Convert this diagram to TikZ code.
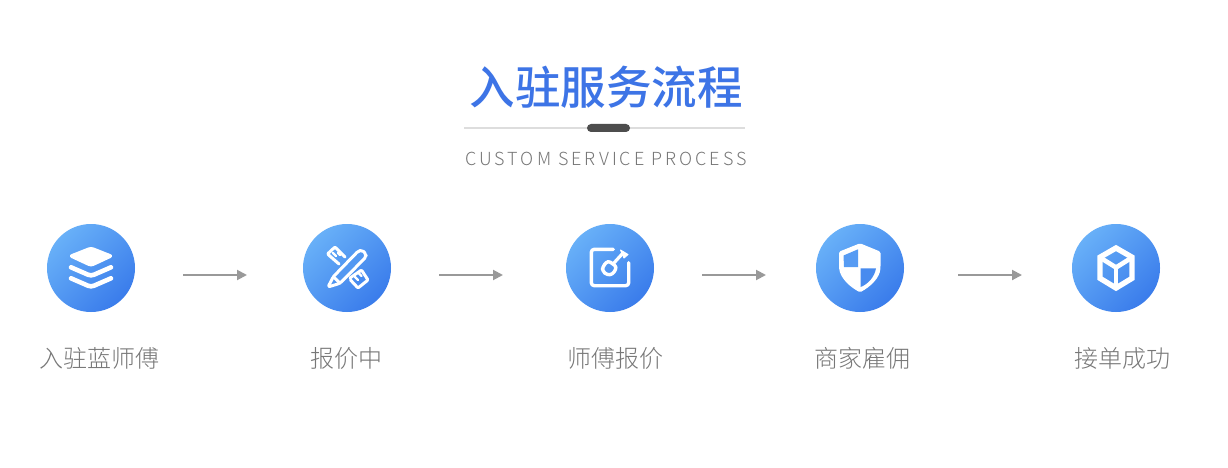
\documentclass[tikz,border=0pt]{standalone}
\usepackage{fontspec}
\usetikzlibrary{arrows.meta}
\newfontfamily\cjk{Noto Sans CJK SC Medium}
\newfontfamily\cjklight{Noto Sans CJK SC Light}
\newfontfamily\latinlight[LetterSpace=16.6]{Noto Sans CJK SC Light}
\definecolor{titleblue}{HTML}{3D74E6}
\definecolor{gradlight}{HTML}{68B0F8}
\definecolor{graddark}{HTML}{3A7CEB}
\definecolor{labelgray}{HTML}{777777}
\definecolor{arrowgray}{HTML}{999999}
\definecolor{ruleline}{HTML}{DDDDDD}
\definecolor{pillgray}{HTML}{4D4D4D}
\tikzset{
  badge/.style={circle,minimum size=88pt,inner sep=0pt,outer sep=0pt,
    shading=axis,top color=gradlight,bottom color=graddark,shading angle=45},
  steplabel/.style={font=\cjklight\fontsize{24}{28}\selectfont,text=labelgray,inner sep=0pt},
  flow/.style={draw=arrowgray,line width=2pt,-{Triangle[length=10pt,width=10pt]}},
  iconline/.style={draw=white,line width=3pt,line join=round,line cap=round},
}
\begin{document}
\begin{tikzpicture}[x=1pt,y=-1pt]
\useasboundingbox (0,0) rectangle (1228,468);
\fill[white] (0,0) rectangle (1228,468);
% heading
\node[inner sep=0pt,text=titleblue,font=\cjk\fontsize{45.5}{50}\selectfont] (title) at (606,87) {入驻服务流程};
\coordinate (ruleL) at (464,128);
\coordinate (ruleR) at (745,128);
\draw[ruleline,line width=2pt] (ruleL) -- (ruleR);
\fill[pillgray,rounded corners=4pt] (587,124) rectangle (630,132);
\node[inner sep=0pt,text=labelgray,font=\latinlight\fontsize{18}{22}\selectfont] (subtitle) at (606,159) {CUSTOM SERVICE PROCESS};
% badges
\node[badge] (c1) at (91,268) {};
\node[badge] (c2) at (347,268) {};
\node[badge] (c3) at (610,268) {};
\node[badge] (c4) at (860,268) {};
\node[badge] (c5) at (1116,268) {};
% labels
\node[steplabel] (t1) at (99.5,358) {入驻蓝师傅};
\node[steplabel] (t2) at (346,358) {报价中};
\node[steplabel] (t3) at (615,358) {师傅报价};
\node[steplabel] (t4) at (862,358) {商家雇佣};
\node[steplabel] (t5) at (1122.5,358) {接单成功};
% arrows
\coordinate (a1s) at (183,275); \coordinate (a1e) at (247,275);
\coordinate (a2s) at (439,275); \coordinate (a2e) at (503,275);
\coordinate (a3s) at (702,275); \coordinate (a3e) at (766,275);
\coordinate (a4s) at (958,275); \coordinate (a4e) at (1022,275);
\draw[flow] (a1s) -- (a1e);
\draw[flow] (a2s) -- (a2e);
\draw[flow] (a3s) -- (a3e);
\draw[flow] (a4s) -- (a4e);
% layers icon
\begin{scope}[shift={(c1)}]
  \fill[white,draw=white,line width=2pt,line join=round,rounded corners=2.5pt]
    (-21.5,-12) -- (0,-20.5) -- (21.5,-12) -- (0,-2) -- cycle;
  \draw[iconline,line width=4.6pt,rounded corners=3pt] (-20,-0.7) -- (0,8) -- (20,-0.7);
  \draw[iconline,line width=4.6pt,rounded corners=3pt] (-20,10.3) -- (0,19) -- (20,10.3);
\end{scope}
% pencil and ruler icon
\begin{scope}[shift={(c2)}]
  \draw[iconline,rounded corners=1pt] (-8,-4) -- (-19.5,-14) -- (-12,-21) -- (-2,-11);
  \draw[iconline,line width=2.4pt] (-14,-15) -- (-11,-12);
  \draw[iconline,line width=2.4pt] (-9,-15) -- (-7,-13);
  \draw[iconline,rounded corners=1pt] (3,10) -- (14.5,2) -- (21,12) -- (11,20) -- (3.5,12);
  \draw[iconline,line width=2.4pt] (8,9) -- (11,12);
  \draw[iconline,line width=2.4pt] (12,5.5) -- (14.5,8);
  \fill[gradlight!55!graddark] (-13.7,8.7) -- (11.3,-17) -- (15,-18) -- (19,-14) -- (19,-11) -- (-7,15.3) -- cycle;
  \draw[iconline,rounded corners=2pt] (-19,19) -- (-13.7,8.7) -- (11.3,-17) -- (15,-18) -- (19,-14) -- (19,-11) -- (-7,15.3) -- cycle;
  \draw[iconline] (-13.7,8.7) -- (-7,15.3);
\end{scope}
% shovel icon
\begin{scope}[shift={(c3)}]
  \draw[iconline,line width=3.4pt,rounded corners=3pt] (3.3,-18.7) -- (-18.7,-18.7) -- (-18.7,17.7) -- (18.7,17.7) -- (18.7,-5.3);
  \draw[iconline,line width=3.4pt,rounded corners=3pt] (-2,-7.5) -- (7,-1) -- (2.5,6.5) -- (-3,7) -- (-7.5,3) -- (-7.5,-1) -- cycle;
  \draw[iconline,line width=3.2pt] (3,-4) -- (13,-15);
  \fill[white,draw=white,line width=1pt,line join=round] (10.5,-18) -- (18,-13.5) -- (14,-10) -- cycle;
\end{scope}
% shield icon
\begin{scope}[shift={(c4)}]
  \fill[white,rounded corners=1.5pt] (0,-24.7) -- (-21,-16.3) -- (-21,-1)
     .. controls (-20,10) and (-10,19) .. (0,24.3)
     .. controls (10,19) and (20,10) .. (20.5,-1) -- (20.5,-16.3) -- cycle;
  \fill[graddark!40!gradlight] (-16.5,-12.5) -- (-2,-18.7) -- (-2,-1) -- (-16,-1) -- cycle;
  \fill[graddark!70!gradlight] (0.7,0.3) -- (16,0.3) .. controls (14.5,9) and (8,16) .. (0.7,19) -- cycle;
\end{scope}
% cube icon
\begin{scope}[shift={(c5)}]
  \draw[draw=white,line width=5.4pt,miter limit=10] (0,-20) -- (16,-10.8) -- (16,10.3) -- (0,20) -- (-16,10.3) -- (-16,-10.8) -- cycle;
  \draw[draw=white,line width=4.6pt,line join=miter] (-16,-10.5) -- (0,-0.5) -- (16,-10.5);
  \draw[draw=white,line width=4.6pt] (0,-0.5) -- (0,20);
\end{scope}
\end{tikzpicture}
\end{document}
